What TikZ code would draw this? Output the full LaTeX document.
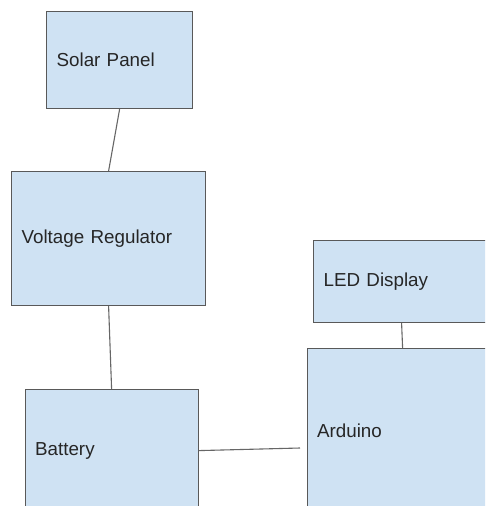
\documentclass[tikz,border=0pt]{standalone}
\usepackage{fontspec}
\setmainfont{Liberation Sans}
\definecolor{boxfill}{HTML}{CFE2F3}
\definecolor{boxline}{HTML}{595959}
\definecolor{wirecol}{HTML}{666666}
\definecolor{txt}{HTML}{262626}
\begin{document}
\begin{tikzpicture}[x=1pt,y=-1pt,
  box/.style={draw=boxline, fill=boxfill, line width=1.2pt, anchor=north west,
    align=left, inner xsep=10pt, inner ysep=0pt,
    font=\fontsize{18.8}{22}\selectfont, text=txt},
  wire/.style={draw=wirecol, line width=1.1pt}]
\useasboundingbox (0,0) rectangle (485,506);
\clip (0,0) rectangle (485,506);
\fill[white] (0,0) rectangle (485,506);
\node[box, text width=126pt, minimum height=97pt] (sp) at (46,11) {Solar Panel};
\node[box, text width=174pt, minimum height=134pt] (vr) at (11,171) {Voltage Regulator};
\node[box, text width=153pt, minimum height=122pt] (bat) at (24.5,389) {Battery};
\node[box, text width=156pt, minimum height=82pt] (led) at (313,240) {LED Display};
\node[box, text width=171pt, minimum height=164pt] (ard) at (306.5,348) {Arduino};
\coordinate (ardin) at (300,448);
\draw[wire] (sp.south) -- (vr.north);
\draw[wire] (vr.south) -- (bat.north);
\draw[wire] (bat.east) -- (ardin);
\draw[wire] (led.south) -- (ard.north);
\end{tikzpicture}
\end{document}
